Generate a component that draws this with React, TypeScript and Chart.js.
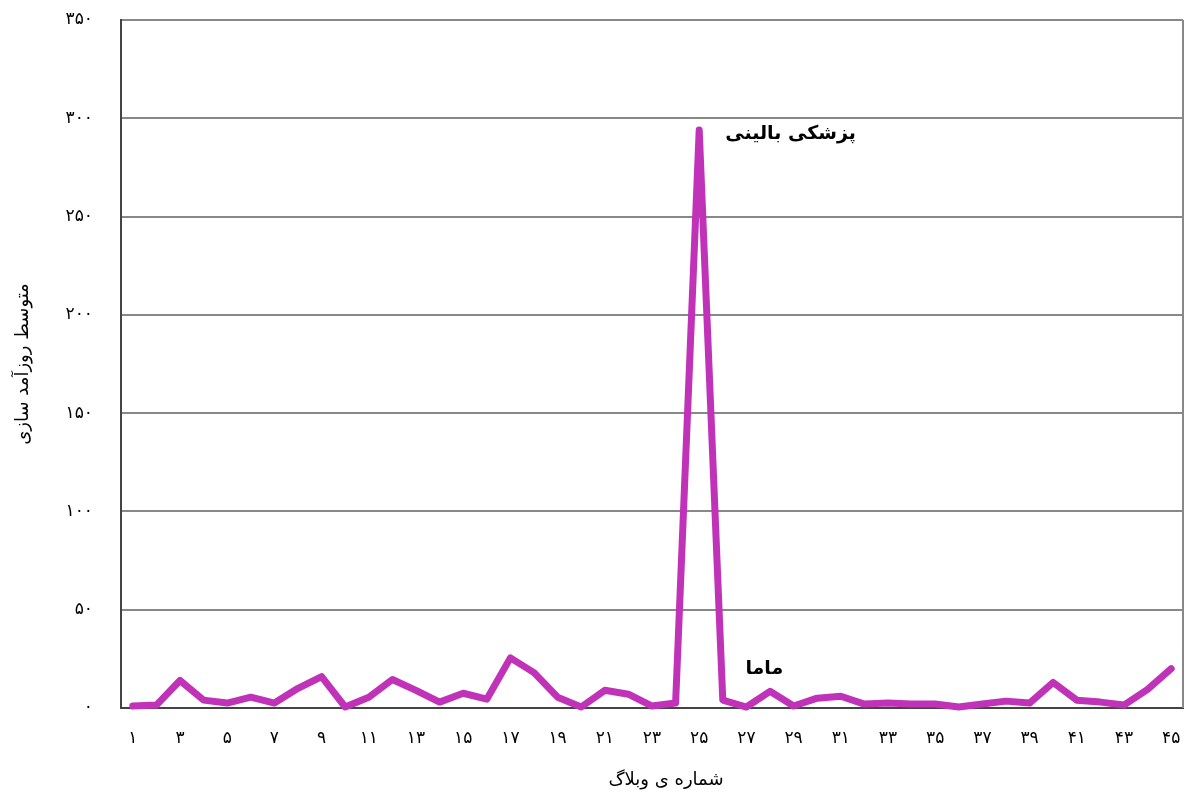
import React, { useEffect, useRef } from "react";
import { Chart, registerables } from "chart.js";

Chart.register(...registerables);

const categories = [
  "۱", "۲", "۳", "۴", "۵", "۶", "۷", "۸", "۹", "۱۰",
  "۱۱", "۱۲", "۱۳", "۱۴", "۱۵", "۱۶", "۱۷", "۱۸", "۱۹", "۲۰",
  "۲۱", "۲۲", "۲۳", "۲۴", "۲۵", "۲۶", "۲۷", "۲۸", "۲۹", "۳۰",
  "۳۱", "۳۲", "۳۳", "۳۴", "۳۵", "۳۶", "۳۷", "۳۸", "۳۹", "۴۰",
  "۴۱", "۴۲", "۴۳", "۴۴", "۴۵",
];

const values = [
  1, 1.5, 14, 4, 2.5, 5.5, 2.5, 10, 16, 0.5,
  5.5, 14.5, 9, 3, 7.5, 4.5, 25.5, 18, 5.5, 0.5,
  9, 7, 1, 2.5, 294, 4, 0.5, 8.5, 1, 5,
  6, 2, 2.5, 2, 2, 0.5, 2, 3.5, 2.5, 13,
  4, 3, 1.5, 9.5, 20,
];

const yTickLabels = ["۰", "۵۰", "۱۰۰", "۱۵۰", "۲۰۰", "۲۵۰", "۳۰۰", "۳۵۰"];

const annotationLabels = ["پزشکی بالینی", "ماما"];
const annotationIndex = [24, 26];
const annotationValue = [292, 20];

const xTitle = "شماره ی وبلاگ";
const yTitle = "متوسط روزآمد سازی";

const FONT = "'DejaVu Sans', sans-serif";

export default function App() {
  const ref = useRef<HTMLCanvasElement | null>(null);

  useEffect(() => {
    document.body.style.margin = "0";
    const canvas = ref.current;
    if (!canvas) return;

    const overlay = {
      id: "overlay",
      afterDatasetsDraw(chart: any) {
        const ctx = chart.ctx;
        const xs = chart.scales.x;
        const ys = chart.scales.y;
        const area = chart.chartArea;
        ctx.save();
        ctx.strokeStyle = "#888888";
        ctx.lineWidth = 2;
        ctx.beginPath();
        ctx.moveTo(area.right, area.top);
        ctx.lineTo(area.right, area.bottom);
        ctx.stroke();
        ctx.fillStyle = "#000000";
        ctx.font = `bold 19px ${FONT}`;
        ctx.textBaseline = "middle";
        ctx.textAlign = "left";
        annotationLabels.forEach((t, i) => {
          const x = xs.getPixelForValue(annotationIndex[i]);
          const y = ys.getPixelForValue(annotationValue[i]);
          const dx = i === 0 ? 26 : -1;
          ctx.fillText(t, x + dx, y);
        });
        // x axis title
        ctx.font = `18px ${FONT}`;
        ctx.textAlign = "center";
        ctx.fillText(xTitle, (area.left + area.right) / 2 + 14, area.bottom + 72);
        ctx.restore();
      },
    };

    const chart = new Chart(canvas, {
      type: "line",
      data: {
        labels: categories,
        datasets: [
          {
            data: values,
            borderColor: "#C033B8",
            backgroundColor: "#C033B8",
            borderWidth: 7,
            pointRadius: 0,
            tension: 0,
            borderCapStyle: "round",
            borderJoinStyle: "round",
            clip: false as any,
          },
        ],
      },
      options: {
        animation: false,
        responsive: false,
        maintainAspectRatio: false,
        layout: { padding: { top: 20, right: 3, left: 0, bottom: 0 } },
        plugins: {
          legend: { display: false },
          tooltip: { enabled: false },
        },
        scales: {
          x: {
            type: "category",
            offset: true,
            grid: { display: false, drawTicks: false },
            border: { color: "#444444", width: 2 },
            ticks: {
              autoSkip: false,
              maxRotation: 0,
              padding: 20,
              color: "#000000",
              font: { family: FONT, size: 17 },
              callback: (v: any, i: number) => (i % 2 === 0 ? categories[i] : ""),
            },
            title: { display: false },
            afterFit: (s: any) => {
              s.height = 83;
              s.paddingLeft = 0;
              s.paddingRight = 0;
            },
          },
          y: {
            min: 0,
            max: 350,
            grid: { color: "#888888", lineWidth: 2, drawTicks: false },
            border: { color: "#444444", width: 2 },
            ticks: {
              stepSize: 50,
              padding: 28,
              color: "#000000",
              font: { family: FONT, size: 17 },
              callback: (v: any) => yTickLabels[Math.round(Number(v) / 50)],
            },
            title: {
              display: true,
              text: yTitle,
              color: "#000000",
              font: { family: FONT, size: 18 },
              padding: { top: 13, bottom: 0 },
            },
            afterFit: (s: any) => {
              s.width = 121;
              s.paddingTop = 0;
              s.paddingBottom = 0;
            },
          },
        },
      },
      plugins: [overlay],
    });

    return () => chart.destroy();
  }, []);

  return (
    <div style={{ position: "absolute", left: 0, top: 0, width: 1186, height: 791, background: "#fff" }}>
      <canvas ref={ref} width={1186} height={791} style={{ width: 1186, height: 791 }} />
    </div>
  );
}
